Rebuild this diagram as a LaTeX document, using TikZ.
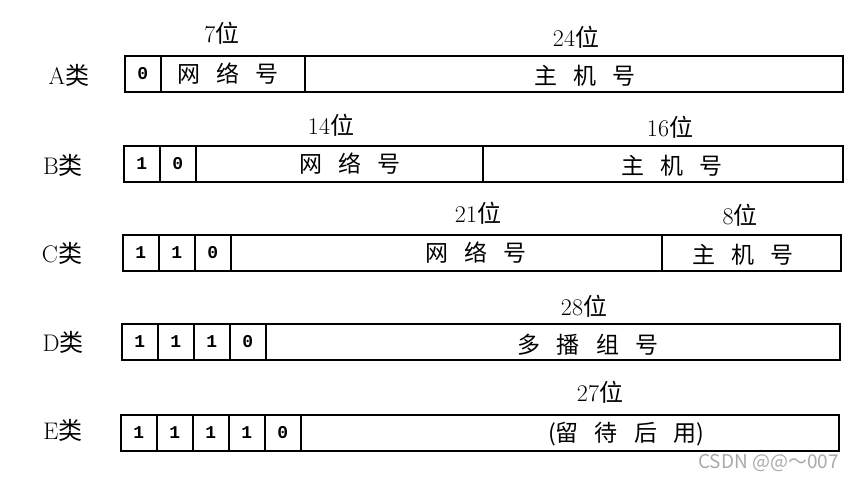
\documentclass[tikz,border=0pt]{standalone}
\usepackage{fontspec}
\newfontfamily\cjk{Noto Sans CJK SC}
\newfontfamily\bitfont{Liberation Mono}
\newcommand\gapx{\hspace{0.7em}}
\definecolor{wm}{RGB}{170,170,170}
\tikzset{
  cell/.style={draw, line width=1.6pt, minimum width=36pt, minimum height=36pt,
    inner sep=0pt, anchor=north west, font=\bitfont\bfseries\fontsize{18}{18}\selectfont},
  field/.style={draw, line width=1.6pt, minimum height=36pt, inner sep=0pt, anchor=north west},
  fieldtext/.style={inner sep=0pt, font=\cjk\fontsize{23}{23}\selectfont},
  bits/.style={inner sep=0pt, font=\fontsize{24}{24}\selectfont},
  cls/.style={inner sep=0pt, font=\fontsize{24}{24}\selectfont},
}
\begin{document}
\begin{tikzpicture}[x=1pt,y=-1pt]
\fill[white] (0,0) rectangle (856,479);
\useasboundingbox (0,0) rectangle (856,479);
% ---------- A ----------
\node[cls] (clsA) at (69,75) {A{\cjk 类}};
\node[cell] (a1) at (124,55) {0};
\node[field, minimum width=144pt] (anet) at (160,55) {};
\node[field, minimum width=538pt] (ahost) at (304,55) {};
\node[fieldtext] (anett) at (228,74) {网\gapx 络\gapx 号};
\node[fieldtext] (ahostt) at (585,76) {主\gapx 机\gapx 号};
\node[bits] (abn) at (222,33) {7{\cjk 位}};
\node[bits] (abh) at (576,37) {24{\cjk 位}};
% ---------- B ----------
\node[cls] (clsB) at (63,165) {B{\cjk 类}};
\node[cell] (b1) at (123,145) {1};
\node[cell] (b2) at (159,145) {0};
\node[field, minimum width=287pt] (bnet) at (195,145) {};
\node[field, minimum width=360pt] (bhost) at (482,145) {};
\node[fieldtext] (bnett) at (350,164) {网\gapx 络\gapx 号};
\node[fieldtext] (bhostt) at (672,166) {主\gapx 机\gapx 号};
\node[bits] (bbn) at (331,125) {14{\cjk 位}};
\node[bits] (bbh) at (670,127) {16{\cjk 位}};
% ---------- C ----------
\node[cls] (clsC) at (62,253) {C{\cjk 类}};
\node[cell] (c1) at (122,234) {1};
\node[cell] (c2) at (158,234) {1};
\node[cell] (c3) at (194,234) {0};
\node[field, minimum width=431pt] (cnet) at (230,234) {};
\node[field, minimum width=179pt] (chost) at (661,234) {};
\node[fieldtext] (cnett) at (476,253) {网\gapx 络\gapx 号};
\node[fieldtext] (chostt) at (743,255) {主\gapx 机\gapx 号};
\node[bits] (cbn) at (478,213) {21{\cjk 位}};
\node[bits] (cbh) at (740,215) {8{\cjk 位}};
% ---------- D ----------
\node[cls] (clsD) at (63,342) {D{\cjk 类}};
\node[cell] (d1) at (121,323) {1};
\node[cell] (d2) at (157,323) {1};
\node[cell] (d3) at (193,323) {1};
\node[cell] (d4) at (229,323) {0};
\node[field, minimum width=574pt] (dgrp) at (265,323) {};
\node[fieldtext] (dgrpt) at (588,345) {多\gapx 播\gapx 组\gapx 号};
\node[bits] (dbg) at (584,306) {28{\cjk 位}};
% ---------- E ----------
\node[cls] (clsE) at (63,430) {E{\cjk 类}};
\node[cell] (e1) at (120,414) {1};
\node[cell] (e2) at (156,414) {1};
\node[cell] (e3) at (192,414) {1};
\node[cell] (e4) at (228,414) {1};
\node[cell] (e5) at (264,414) {0};
\node[field, minimum width=538pt] (eres) at (300,414) {};
\node[fieldtext] (erest) at (626,434) {(留\gapx 待\gapx 后\gapx 用)};
\node[bits] (ebr) at (600,392) {27{\cjk 位}};
% ---------- watermark ----------
\node[inner sep=0pt, anchor=east, text=wm, font=\cjk\fontsize{19}{19}\selectfont] (wmark) at (839,463) {CSDN @@～007};
\end{tikzpicture}
\end{document}
